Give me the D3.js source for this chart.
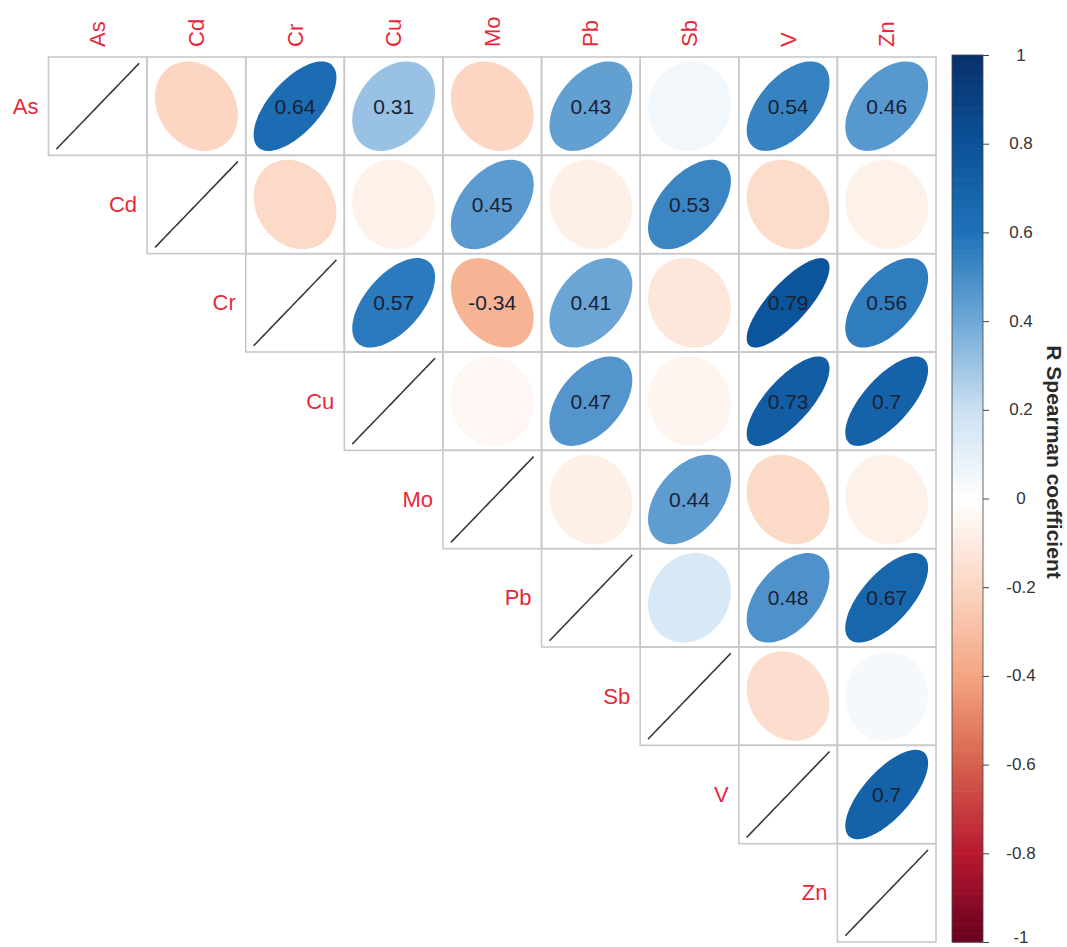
<!DOCTYPE html>
<html>
<head>
<meta charset="utf-8">
<script src="https://cdn.jsdelivr.net/npm/d3@7/dist/d3.min.js"></script>
<style>
  html, body { margin: 0; padding: 0; background: #ffffff; }
  svg { display: block; font-family: "Liberation Sans", Arial, Helvetica, sans-serif; }
</style>
</head>
<body>
<svg id="chart" width="1067" height="947"></svg>
<script>
// Elements (rows and columns of the correlation matrix)
const elements = ["As", "Cd", "Cr", "Cu", "Mo", "Pb", "Sb", "V", "Zn"];

// Spearman coefficients, upper triangle: each row lists the element against the ones after it
const rowAs = [-0.20, 0.64, 0.31, -0.20, 0.43, 0.05, 0.54, 0.46];
const rowCd = [-0.18, -0.07, 0.45, -0.08, 0.53, -0.17, -0.07];
const rowCr = [0.57, -0.34, 0.41, -0.12, 0.79, 0.56];
const rowCu = [-0.04, 0.47, -0.05, 0.73, 0.70];
const rowMo = [-0.08, 0.44, -0.18, -0.07];
const rowPb = [0.15, 0.48, 0.67];
const rowSb = [-0.16, 0.04];
const rowV  = [0.70];

// Whether each coefficient is printed (significant pairs)
const sigAs = [0, 1, 1, 0, 1, 0, 1, 1];
const sigCd = [0, 0, 1, 0, 1, 0, 0];
const sigCr = [1, 1, 1, 0, 1, 1];
const sigCu = [0, 1, 0, 1, 1];
const sigMo = [0, 1, 0, 0];
const sigPb = [0, 1, 1];
const sigSb = [0, 0];
const sigV  = [1];

// Colour legend
const legendTicks = [1, 0.8, 0.6, 0.4, 0.2, 0, -0.2, -0.4, -0.6, -0.8, -1];
const legendTitle = "R Spearman coefficient";
const paletteStops = [-1, -0.8, -0.6, -0.4, -0.2, 0, 0.2, 0.4, 0.6, 0.8, 1];
const paletteColors = ["#67001F", "#B8182F", "#D6604D", "#F4A582", "#FCD6C2", "#FFFFFF",
                       "#CBE0F2", "#6FA8D7", "#1F72B8", "#0B5299", "#08306B"];

const rows = [rowAs, rowCd, rowCr, rowCu, rowMo, rowPb, rowSb, rowV];
const sigs = [sigAs, sigCd, sigCr, sigCu, sigMo, sigPb, sigSb, sigV];

// Flatten into cells (diagonal included)
const cells = [];
elements.forEach((e, i) => {
  cells.push({ row: e, col: e, r: 1, diag: true, sig: false });
  if (i < rows.length) {
    rows[i].forEach((v, k) => {
      cells.push({ row: e, col: elements[i + 1 + k], r: v, diag: false, sig: !!sigs[i][k] });
    });
  }
});

const svg = d3.select("#chart");

const x = d3.scaleBand().domain(elements).range([48.5, 936]).padding(0);
const y = d3.scaleBand().domain(elements).range([57, 942]).padding(0);
const color = d3.scaleLinear().domain(paletteStops).range(paletteColors).interpolate(d3.interpolateRgb);

const labelColor = "#E8283A";
const fmt = v => String(+v.toFixed(2));

// Ellipse outline for a coefficient, in units of the cell size
function ellipsePath(r, cx, cy, w, h) {
  const d = Math.acos(Math.max(-1, Math.min(1, r)));
  const pts = d3.range(0, 100).map(i => {
    const k = (i / 99) * 2 * Math.PI;
    return [cx + 0.84 * Math.cos(k + d / 2) / 2 * w,
            cy - 0.91 * Math.cos(k - d / 2) / 2 * h];
  });
  return d3.line()(pts) + "Z";
}

const gCells = svg.append("g");

// Off-diagonal ellipses
gCells.selectAll("path.ell")
  .data(cells.filter(c => !c.diag))
  .join("path")
  .attr("class", "ell")
  .attr("d", c => ellipsePath(c.r, x(c.col) + x.bandwidth() / 2, y(c.row) + y.bandwidth() / 2,
                              x.bandwidth(), y.bandwidth()))
  .attr("fill", c => color(c.r));

// Diagonal (r = 1 collapses to a line)
gCells.selectAll("path.diag")
  .data(cells.filter(c => c.diag))
  .join("path")
  .attr("class", "diag")
  .attr("d", c => ellipsePath(c.r, x(c.col) + x.bandwidth() / 2, y(c.row) + y.bandwidth() / 2,
                              x.bandwidth(), y.bandwidth() * 0.96))
  .attr("fill", "none")
  .attr("stroke", "#3a3a48")
  .attr("stroke-width", 1.6);

// Grid
gCells.selectAll("rect.grid")
  .data(cells)
  .join("rect")
  .attr("class", "grid")
  .attr("x", c => x(c.col))
  .attr("y", c => y(c.row))
  .attr("width", x.bandwidth())
  .attr("height", y.bandwidth())
  .attr("fill", "none")
  .attr("stroke", "#c8c8c8")
  .attr("stroke-width", 1.6);

// Printed coefficients
gCells.selectAll("text.num")
  .data(cells.filter(c => c.sig))
  .join("text")
  .attr("class", "num")
  .attr("x", c => x(c.col) + x.bandwidth() / 2)
  .attr("y", c => y(c.row) + y.bandwidth() / 2)
  .attr("text-anchor", "middle")
  .attr("dominant-baseline", "central")
  .attr("font-size", 21)
  .attr("fill", "#1a2236")
  .text(c => fmt(c.r));

// Row labels, left of the diagonal cell
svg.append("g").selectAll("text")
  .data(elements)
  .join("text")
  .attr("x", e => x(e) - 10)
  .attr("y", e => y(e) + y.bandwidth() / 2)
  .attr("text-anchor", "end")
  .attr("dominant-baseline", "central")
  .attr("font-size", 22)
  .attr("fill", labelColor)
  .text(e => e);

// Column labels, rotated above the grid
svg.append("g").selectAll("text")
  .data(elements)
  .join("text")
  .attr("transform", e => `translate(${x(e) + x.bandwidth() / 2},47) rotate(-90)`)
  .attr("text-anchor", "start")
  .attr("dominant-baseline", "central")
  .attr("font-size", 22)
  .attr("fill", labelColor)
  .text(e => e);

// Colour bar
const barX = 952, barW = 31;
const ly = d3.scaleLinear().domain([-1, 1]).range([942, 55]);
const nSteps = 200;
const steps = d3.range(nSteps).map(i => -1 + (i + 0.5) * 2 / nSteps);
const gBar = svg.append("g");
gBar.selectAll("rect")
  .data(steps)
  .join("rect")
  .attr("x", barX)
  .attr("y", v => ly(v + 1 / nSteps))
  .attr("width", barW)
  .attr("height", (ly(-1) - ly(1)) / nSteps + 0.6)
  .attr("fill", v => color(v));
gBar.append("rect")
  .attr("x", barX).attr("y", ly(1))
  .attr("width", barW).attr("height", ly(-1) - ly(1))
  .attr("fill", "none").attr("stroke", "#444").attr("stroke-width", 0.8);

const axis = d3.axisRight(ly).tickValues(legendTicks).tickSize(6).tickFormat(() => "");
const gAxis = svg.append("g").attr("transform", `translate(${barX + barW},0)`).call(axis);
gAxis.select(".domain").remove();
gAxis.selectAll(".tick line").attr("stroke", "#444").attr("stroke-width", 1);

svg.append("g").selectAll("text")
  .data(legendTicks)
  .join("text")
  .attr("x", 1021)
  .attr("y", v => Math.min(ly(v), 937))
  .attr("text-anchor", "middle")
  .attr("dominant-baseline", "central")
  .attr("font-size", 17)
  .attr("fill", "#333")
  .text(v => String(v));

svg.append("text")
  .attr("transform", "translate(1054,462) rotate(90)")
  .attr("text-anchor", "middle")
  .attr("dominant-baseline", "central")
  .attr("font-size", 21)
  .attr("font-weight", "bold")
  .attr("fill", "#2a2a2a")
  .text(legendTitle);
</script>
</body>
</html>
